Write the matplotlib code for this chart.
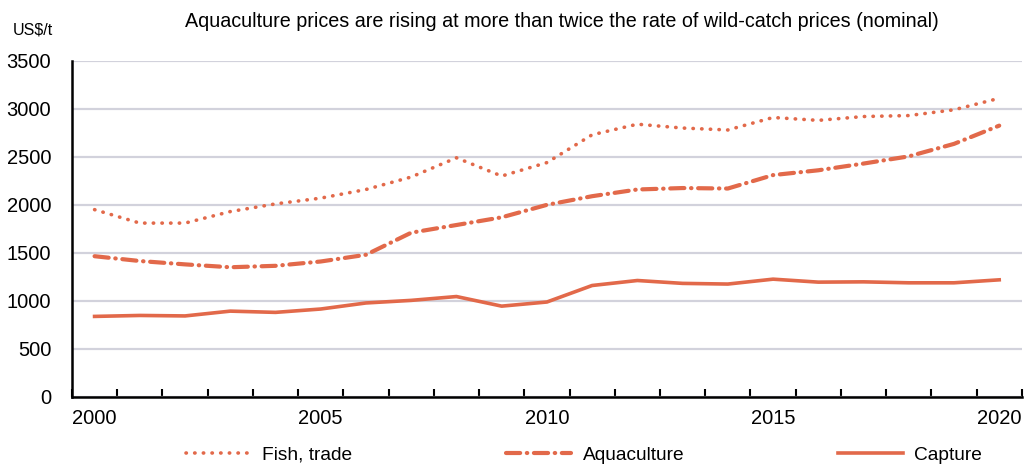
import numpy as np
import matplotlib.pyplot as plt

plt.rcParams['font.family'] = ['Liberation Sans', 'DejaVu Sans']

years       = list(range(2000, 2021))
fish_trade  = [1950, 1810, 1810, 1930, 2010, 2070, 2160, 2290, 2490, 2300, 2440,
               2730, 2840, 2800, 2780, 2910, 2880, 2920, 2930, 2990, 3110]
aquaculture = [1465, 1415, 1380, 1350, 1365, 1410, 1480, 1710, 1790, 1870, 2000,
               2090, 2160, 2175, 2170, 2310, 2360, 2430, 2505, 2635, 2825]
capture     = [838, 848, 843, 893, 880, 915, 978, 1005, 1045, 945, 988,
               1160, 1212, 1182, 1175, 1226, 1195, 1198, 1188, 1188, 1219]
year_labels = ['2000', '2005', '2010', '2015', '2020']

col = '#E2694A'

fig = plt.figure(figsize=(10.28, 4.68), dpi=100)
ax  = fig.add_axes([0.070, 0.152, 0.924, 0.718])

x = np.arange(len(years))
ax.plot(x, fish_trade, color=col, lw=2.6, linestyle=(0, (0.1, 2.3)),
        dash_capstyle='round', label='Fish, trade')
ax.plot(x, aquaculture, color=col, lw=3.0, linestyle=(0, (3.4, 1.6, 0.1, 1.6)),
        dash_capstyle='round', label='Aquaculture')
ax.plot(x, capture, color=col, lw=2.6, label='Capture', solid_joinstyle='round')

ax.set_ylim(0, 3500)
ax.set_yticks(np.arange(0, 3501, 500))
ax.set_xlim(-0.5, 20.5)
ax.set_xticks([years.index(int(y)) for y in year_labels])
ax.set_xticklabels(year_labels)
ax.set_xticks(np.arange(-0.5, 20.6, 1), minor=True)

ax.grid(axis='y', color='#D2D2DC', lw=1.6)
ax.set_axisbelow(True)
for s in ['top', 'right']:
    ax.spines[s].set_visible(False)
ax.spines['left'].set_linewidth(1.8)
ax.spines['bottom'].set_linewidth(1.8)

ax.tick_params(axis='y', length=0, pad=15, labelsize=14.5)
ax.tick_params(axis='x', which='major', length=0, pad=9, labelsize=14.5)
ax.tick_params(axis='x', which='minor', direction='in', length=6, width=1.5)

fig.text(0.547, 0.953, 'Aquaculture prices are rising at more than twice the rate of wild-catch prices (nominal)',
         ha='center', va='center', fontsize=14.2)
fig.text(0.012, 0.935, 'US$/t', ha='left', va='center', fontsize=11.5)

fig.legend(loc='center', bbox_to_anchor=(0.568, 0.028), ncol=3, frameon=False,
           fontsize=13.8, handlelength=3.4, columnspacing=8.0, handletextpad=0.6)

fig.savefig('out.png', dpi=100)
